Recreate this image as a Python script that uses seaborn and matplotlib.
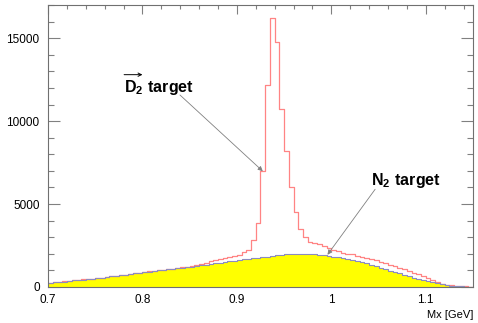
## for data
import numpy as np
import pandas as pd

## for plotting
import matplotlib
matplotlib.use("Agg")
import matplotlib.pyplot as plt
import seaborn as sns


###############################################################################
# histogram contents, 0.005 GeV bins from 0.700 to 1.150
###############################################################################

bin_edges = [round(0.700 + 0.005 * i, 4) for i in range(91)]

d2_counts = [
    270, 290, 320, 340, 370, 410, 420, 460, 480, 510,
    540, 570, 600, 640, 670, 710, 740, 790, 830, 870,
    900, 940, 970, 1010, 1040, 1080, 1110, 1150, 1180, 1230,
    1280, 1340, 1400, 1470, 1540, 1600, 1660, 1720, 1780, 1840,
    1900, 2100, 2230, 2830, 3880, 6990, 12170, 16190, 14740, 10720,
    8170, 6000, 4500, 3480, 2990, 2730, 2670, 2600, 2450, 2330,
    2230, 2150, 2070, 2010, 1960, 1880, 1800, 1740, 1680, 1600,
    1520, 1440, 1350, 1250, 1150, 1060, 950, 850, 760, 660,
    520, 410, 300, 200, 130, 90, 60, 45, 30, 20,
]

n2_counts = [
    260, 290, 310, 330, 370, 400, 420, 450, 480, 500,
    540, 560, 600, 640, 660, 700, 740, 780, 830, 860,
    900, 930, 960, 1000, 1040, 1060, 1110, 1130, 1170, 1210,
    1230, 1270, 1300, 1330, 1370, 1420, 1460, 1500, 1540, 1580,
    1620, 1660, 1690, 1720, 1760, 1800, 1830, 1870, 1900, 1930,
    1960, 1990, 1980, 2000, 1990, 1980, 1970, 1940, 1910, 1880,
    1830, 1780, 1730, 1690, 1630, 1560, 1480, 1420, 1340, 1260,
    1170, 1070, 990, 900, 820, 740, 650, 570, 490, 420,
    350, 280, 220, 160, 120, 80, 60, 40, 25, 15,
]

x_ticks = [0.7, 0.8, 0.9, 1.0, 1.1]
x_tick_labels = ["0.7", "0.8", "0.9", "1", "1.1"]
y_ticks = [0, 5000, 10000, 15000]

###############################################################################

centers = [e + 0.0025 for e in bin_edges[:-1]]
df = pd.DataFrame({"mx": centers, "d2": d2_counts, "n2": n2_counts})

sns.set_style("white")
plt.rcParams["font.family"] = ["Liberation Sans", "DejaVu Sans"]
plt.rcParams["text.color"] = "black"
plt.rcParams["axes.labelcolor"] = "black"
plt.rcParams["mathtext.fontset"] = "custom"
plt.rcParams["mathtext.rm"] = "Liberation Sans"
plt.rcParams["mathtext.bf"] = "Liberation Sans:bold"

fig = plt.figure(figsize=(4.78, 3.23), dpi=100)
ax = fig.add_axes([0.1004, 0.1115, 0.8891, 0.873])

red = "#ff8484"
blue = "#8c8cc0"

sns.histplot(data=df, x="mx", weights="d2", bins=bin_edges, element="step",
             fill=False, color=red, linewidth=0.9, ax=ax)
sns.histplot(data=df, x="mx", weights="n2", bins=bin_edges, element="step",
             fill=True, color="#ffff00", alpha=1, linewidth=0, ax=ax)
sns.histplot(data=df, x="mx", weights="n2", bins=bin_edges, element="step",
             fill=False, color=blue, linewidth=0.8, ax=ax)

ax.set_xlim(0.7, 1.15)
ax.set_ylim(0, 17000)
ax.set_xticks(x_ticks)
ax.set_xticklabels(x_tick_labels)
ax.set_xticks(np.arange(0.72, 1.15, 0.02), minor=True)
ax.set_yticks(y_ticks)
ax.set_yticks(np.arange(0, 17001, 1000), minor=True)
ax.set_ylabel("")
ax.set_xlabel("Mx [GeV]", loc="right", fontsize=8, labelpad=3)

ax.tick_params(axis="both", which="both", direction="in", colors="#808080",
               labelcolor="black", labelsize=8.5, width=0.8)
ax.tick_params(axis="x", which="both", bottom=False, top=True, pad=5)
ax.tick_params(axis="x", which="major", length=6.3)
ax.tick_params(axis="x", which="minor", length=3)
ax.tick_params(axis="y", which="both", left=True, right=True, pad=6)
ax.tick_params(axis="y", which="major", length=8.6)
ax.tick_params(axis="y", which="minor", length=4.3)
for s in ax.spines.values():
    s.set_color("#707070")
    s.set_linewidth(0.8)

arrow = dict(arrowstyle="-|>", color="#808080", lw=0.6, mutation_scale=7)
ax.annotate("", xy=(0.9296, 6867), xytext=(0.8376, 11687), arrowprops=arrow)
ax.annotate("", xy=(0.9942, 1807), xytext=(1.0481, 6024), arrowprops=arrow)

# vector arrow over the D
ax.annotate("", xy=(0.8000, 12800), xytext=(0.7806, 12800),
            arrowprops=dict(arrowstyle="->", color="black", lw=0.7,
                            mutation_scale=6, shrinkA=0, shrinkB=0))

ax.text(0.7804, 12050, r"$\mathbf{D_2\ target}$",
        fontsize=11.5, ha="left", va="center")
ax.text(1.0418, 6446, r"$\mathbf{N_2\ target}$",
        fontsize=11.5, ha="left", va="center")

fig.savefig("out.png", dpi=100)
